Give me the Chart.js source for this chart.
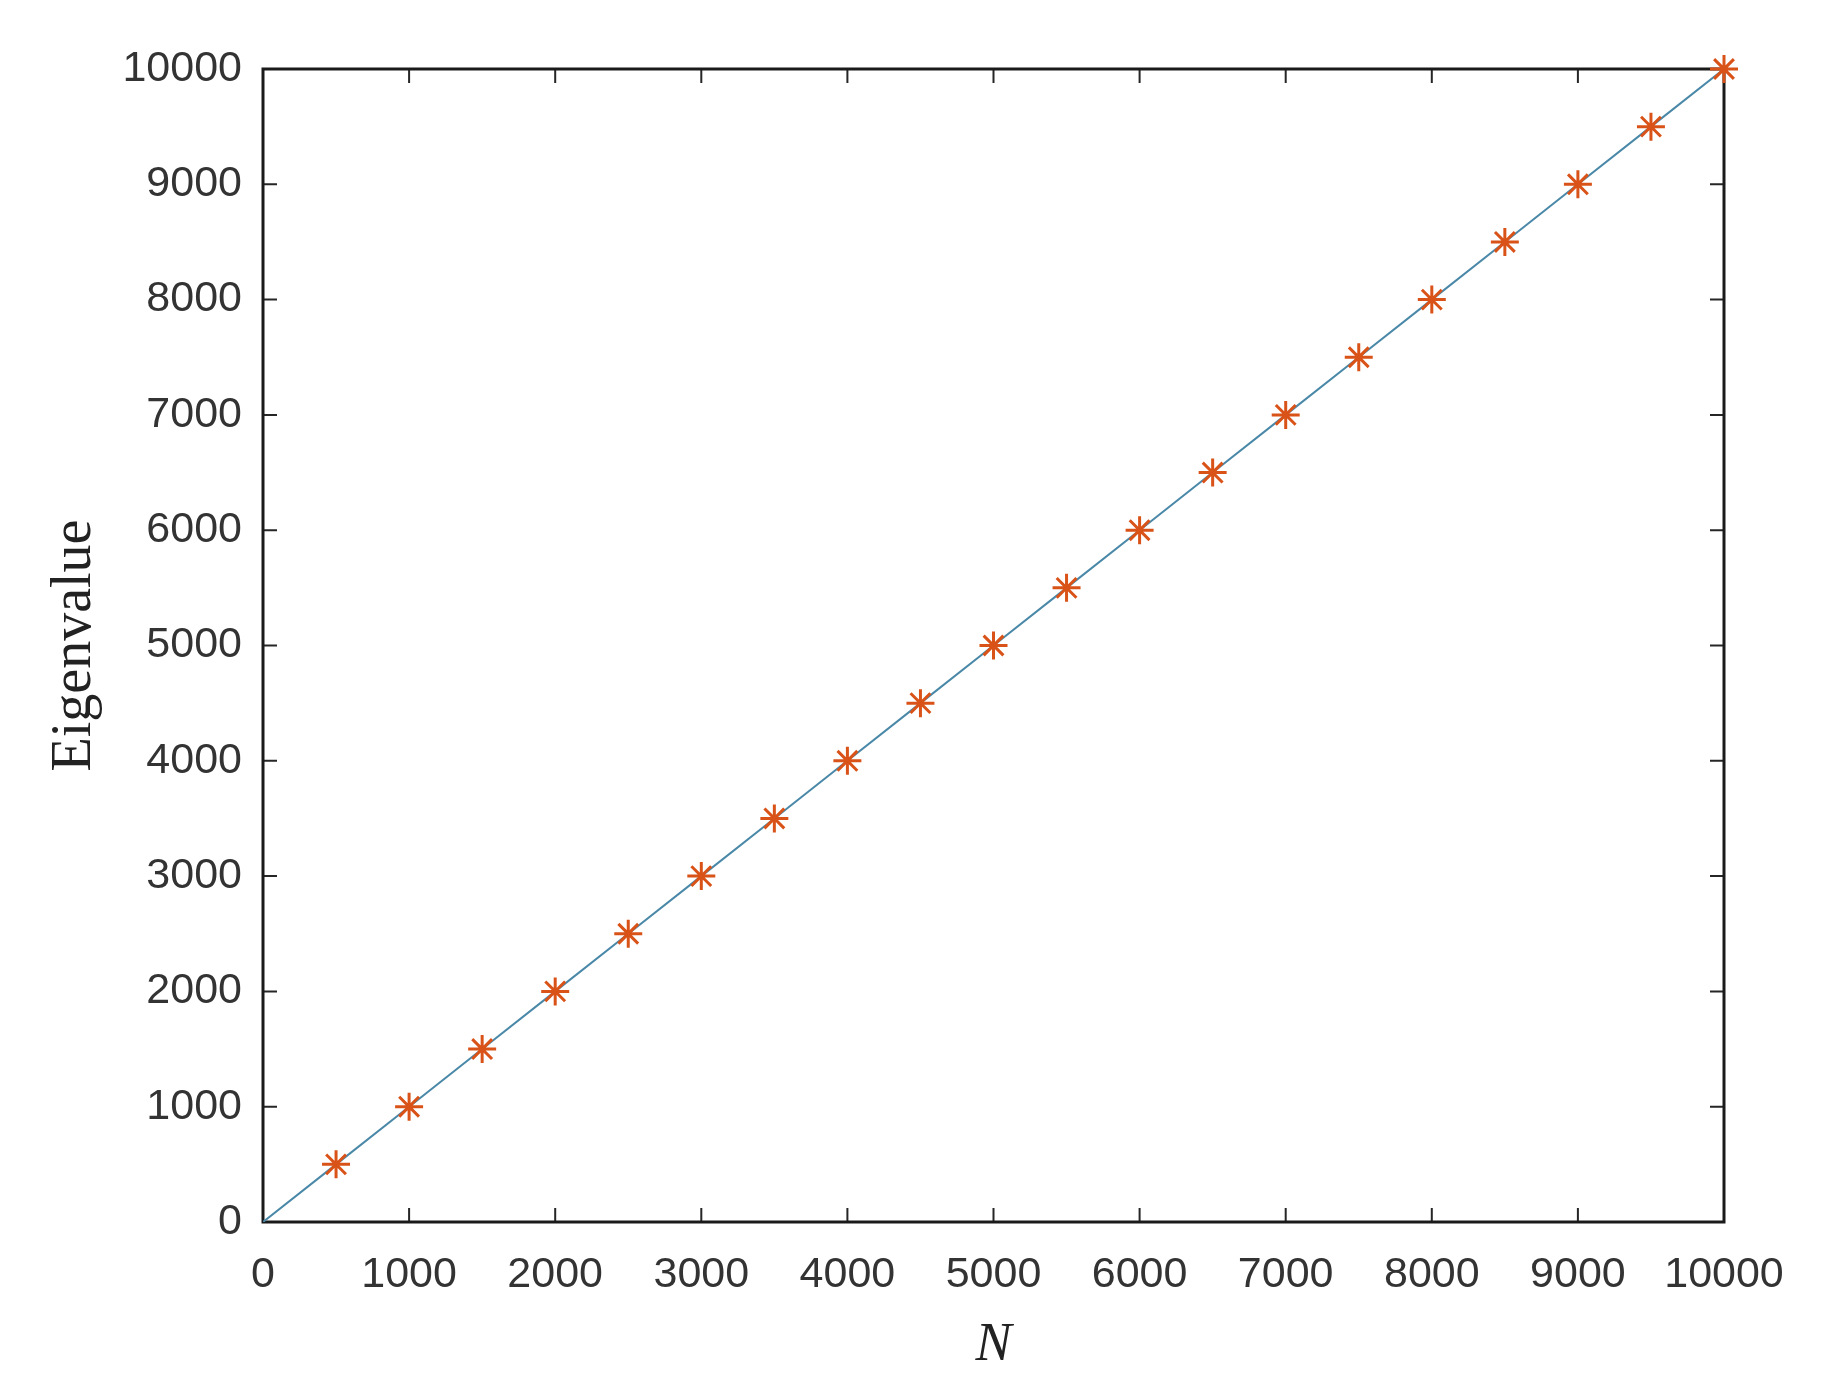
<!DOCTYPE html>
<html>
<head>
<meta charset="utf-8">
<title>Eigenvalue vs N</title>
<script src="https://cdn.jsdelivr.net/npm/chart.js@4"></script>
<style>
	html, body { margin: 0; padding: 0; background: #fff; }
	#wrap { width: 1826px; height: 1398px; }
</style>
</head>
<body>
<div id="wrap"><canvas id="eig-chart" width="1826" height="1398"></canvas></div>
<script>
// line: N vs eigenvalue (starts at origin)
const nValues = [0, 500, 1000, 1500, 2000, 2500, 3000, 3500, 4000, 4500, 5000, 5500, 6000, 6500, 7000, 7500, 8000, 8500, 9000, 9500, 10000]
const eigenValues = [0, 500, 1000, 1500, 2000, 2500, 3000, 3500, 4000, 4500, 5000, 5500, 6000, 6500, 7000, 7500, 8000, 8500, 9000, 9500, 10000]
// asterisk markers (no marker at 0)
const markerN = [500, 1000, 1500, 2000, 2500, 3000, 3500, 4000, 4500, 5000, 5500, 6000, 6500, 7000, 7500, 8000, 8500, 9000, 9500, 10000]
const markerEig = [500, 1000, 1500, 2000, 2500, 3000, 3500, 4000, 4500, 5000, 5500, 6000, 6500, 7000, 7500, 8000, 8500, 9000, 9500, 10000]
const xTicks = [0, 1000, 2000, 3000, 4000, 5000, 6000, 7000, 8000, 9000, 10000]
const yTicks = [0, 1000, 2000, 3000, 4000, 5000, 6000, 7000, 8000, 9000, 10000]

const toPoints = (xs, ys) => xs.map((x, i) => ({x: x, y: ys[i]}))

// box round the axes with inward ticks on all four sides (matlab style)
const boxPlugin = {
	id: "boxPlugin",
	beforeDatasetsDraw(chart){
		const ctx = chart.ctx
		const a = chart.chartArea
		const xs = chart.scales.x
		const ys = chart.scales.y
		const tl = 14
		ctx.save()
		ctx.strokeStyle = "#262626"
		ctx.lineWidth = 2
		ctx.beginPath()
		xTicks.forEach(v => {
			const px = xs.getPixelForValue(v)
			ctx.moveTo(px, a.bottom)
			ctx.lineTo(px, a.bottom - tl)
			ctx.moveTo(px, a.top)
			ctx.lineTo(px, a.top + tl)
		})
		yTicks.forEach(v => {
			const py = ys.getPixelForValue(v)
			ctx.moveTo(a.left, py)
			ctx.lineTo(a.left + tl, py)
			ctx.moveTo(a.right, py)
			ctx.lineTo(a.right - tl, py)
		})
		ctx.stroke()
		ctx.lineWidth = 3
		ctx.strokeStyle = "#1a1a1a"
		ctx.strokeRect(a.left, a.top, a.right - a.left, a.bottom - a.top)
		ctx.restore()
	}
}

const tickFont = {family: "'Liberation Sans', Arial, sans-serif", size: 43}

const eigChart = new Chart("eig-chart", {
	type: "scatter",
	data: {
		datasets: [{
			label: "line",
			data: toPoints(nValues, eigenValues),
			showLine: true,
			borderColor: "#4a88a8",
			borderWidth: 2,
			pointRadius: 0,
			order: 2
		}, {
			label: "markers",
			data: toPoints(markerN, markerEig),
			showLine: false,
			pointStyle: "star",
			pointRadius: 14,
			borderColor: "#D95319",
			backgroundColor: "#D95319",
			pointBorderWidth: 3,
			clip: false,
			order: 1
		}]
	},
	options: {
		responsive: false,
		animation: false,
		layout: {
			padding: {left: 0, right: 102, top: 69, bottom: 0}
		},
		plugins: {
			legend: {display: false},
			tooltip: {enabled: false}
		},
		scales: {
			x: {
				type: "linear",
				min: 0,
				max: 10000,
				afterBuildTicks: (scale) => { scale.ticks = xTicks.map(v => ({value: v})) },
				afterFit: (scale) => { scale.height = 176 },
				grid: {display: false},
				border: {display: false},
				ticks: {
					color: "#333",
					font: tickFont,
					padding: 19,
					maxRotation: 0,
					callback: (v) => String(v)
				},
				title: {
					display: true,
					text: "N",
					color: "#222",
					font: {family: "'Liberation Serif', 'Times New Roman', serif", size: 54, style: "italic"},
					padding: {top: 0, bottom: 20}
				}
			},
			y: {
				type: "linear",
				min: 0,
				max: 10000,
				afterBuildTicks: (scale) => { scale.ticks = yTicks.map(v => ({value: v})) },
				afterFit: (scale) => { scale.width = 263 },
				grid: {display: false},
				border: {display: false},
				ticks: {
					color: "#333",
					font: tickFont,
					padding: 13,
					callback: (v) => String(v)
				},
				title: {
					display: true,
					text: "Eigenvalue",
					color: "#222",
					font: {family: "'Liberation Serif', 'Times New Roman', serif", size: 56},
					padding: {top: 42, bottom: 0}
				}
			}
		}
	},
	plugins: [boxPlugin]
})
</script>
</body>
</html>
